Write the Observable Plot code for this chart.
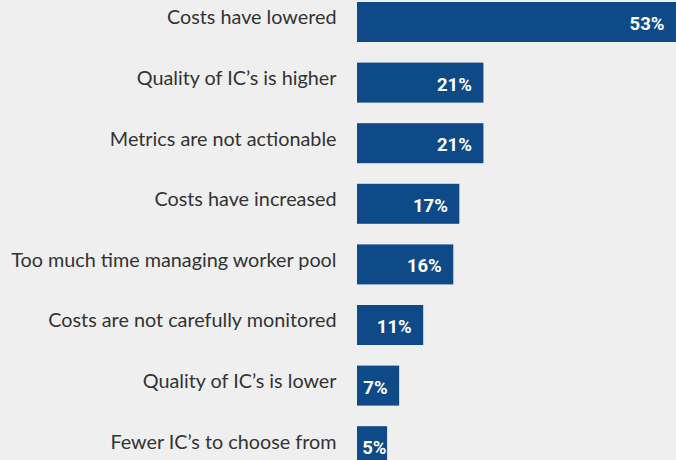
<!DOCTYPE html>
<html>
<head>
<meta charset="utf-8">
<script src="https://cdn.jsdelivr.net/npm/d3@7"></script>
<script src="https://cdn.jsdelivr.net/npm/@observablehq/plot@0.6"></script>
<style>
  html, body { margin: 0; padding: 0; background: #efefef; }
  #chart svg { display: block; background: #efefef; }
</style>
</head>
<body>
<div id="chart"></div>
<script>
const categories = [
  "Costs have lowered",
  "Quality of IC’s is higher",
  "Metrics are not actionable",
  "Costs have increased",
  "Too much time managing worker pool",
  "Costs are not carefully monitored",
  "Quality of IC’s is lower",
  "Fewer IC’s to choose from"
];
const values = [53, 21, 21, 17, 16, 11, 7, 5];
const valueLabels = ["53%", "21%", "21%", "17%", "16%", "11%", "7%", "5%"];

const data = categories.map((c, i) => ({category: c, value: values[i], label: valueLabels[i]}));

const barColor = "#0e4a87";

const chart = Plot.plot({
  width: 676,
  height: 460,
  marginLeft: 357,
  marginRight: 0,
  marginTop: 0,
  marginBottom: 0,
  style: {background: "#efefef", overflow: "hidden"},
  x: {domain: [0, 53], range: [357, 676], axis: null},
  y: {domain: categories, range: [-18.6, 486.8], padding: 0.34, axis: null, round: false},
  marks: [
    Plot.barX(data, {x: "value", y: "category", fill: barColor}),
    Plot.text(data, {
      x: 0, y: "category", text: "category",
      textAnchor: "end", dx: -21, dy: -4.5,
      fontSize: 19.8, fill: "#333333",
      fontFamily: "Lato, 'Noto Sans', sans-serif"
    }),
    Plot.text(data, {
      x: d => Math.max(d.value, 6.8), y: "category", text: "label",
      textAnchor: "end", dx: -12, dy: 1.5,
      fontSize: 18.5, fontWeight: "bold", fill: "white",
      fontFamily: "Roboto, 'Noto Sans', sans-serif"
    })
  ]
});
document.getElementById("chart").appendChild(chart);
</script>
</body>
</html>
